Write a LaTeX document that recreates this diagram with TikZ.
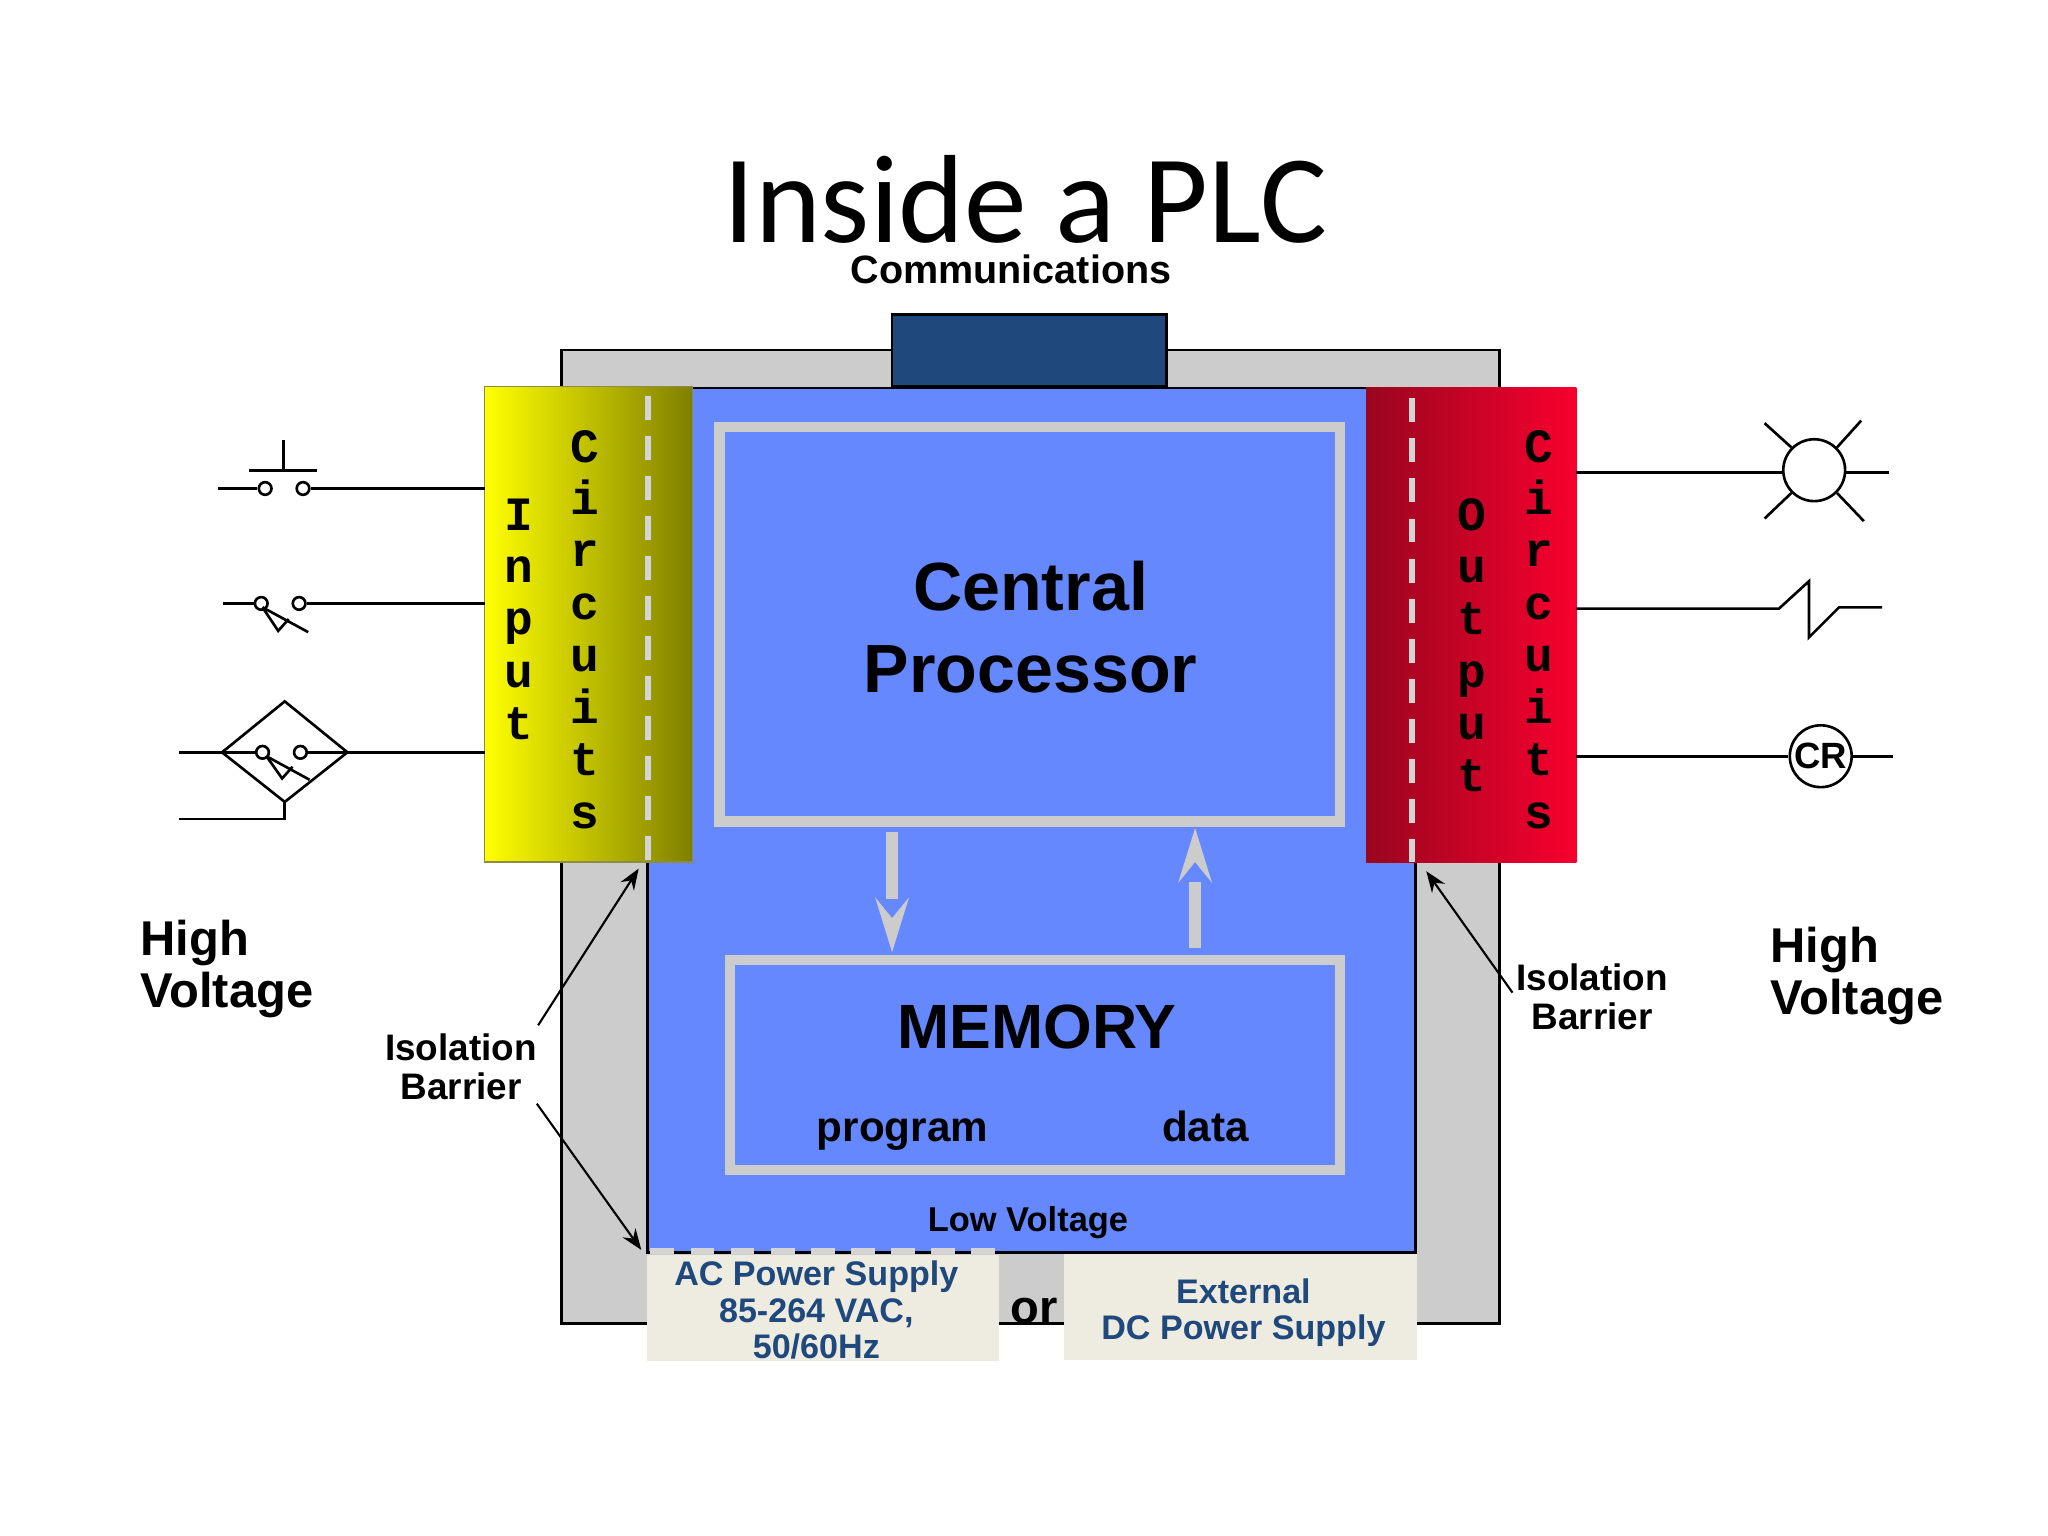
\documentclass[tikz,border=0pt]{standalone}
\usepackage{fontspec}
\setmainfont{Liberation Sans}
\newfontfamily\titlefont{Carlito}
\newfontfamily\letterfont{Liberation Mono}
\usetikzlibrary{arrows.meta}

\definecolor{plcgrey}{HTML}{CCCCCC}
\definecolor{plcblue}{HTML}{6688FF}
\definecolor{commblue}{HTML}{1F497D}
\definecolor{supplybg}{HTML}{EEECE1}
\definecolor{barrier}{HTML}{D4D4D4}
\definecolor{redleft}{HTML}{99061E}
\definecolor{redright}{HTML}{F8002E}

\tikzset{
  wire/.style={line width=0.75pt},
  box/.style={draw=black, line width=0.8pt},
  panel/.style={draw=plcgrey, line width=2.95pt},
  barrierline/.style={draw=barrier, line width=1.65pt, dash pattern=on 6.8pt off 4.6pt},
  feed/.style={draw=plcgrey, line width=3.2pt},
  feedhead/.style={fill=plcgrey, draw=none},
  isoarrow/.style={line width=0.6pt, -{Stealth[length=6pt, width=4.5pt, inset=2pt]}},
  contact/.style={circle, draw=black, line width=0.75pt, fill=white, minimum size=3.6pt, inner sep=0pt},
  vletter/.style={anchor=base, inner sep=0pt, font=\letterfont\bfseries\fontsize{13.6}{14}\selectfont},
  bigword/.style={align=center, font=\bfseries\fontsize{19.4}{23.4}\selectfont},
  hvlabel/.style={align=left, anchor=base west, inner sep=0pt, font=\bfseries\fontsize{13.9}{14.8}\selectfont},
  isolabel/.style={align=center, font=\bfseries\fontsize{10.5}{11.1}\selectfont},
  subword/.style={anchor=base, font=\bfseries\fontsize{12}{14}\selectfont},
  supplytext/.style={align=center, text=commblue, font=\bfseries\fontsize{9.7}{10.4}\selectfont},
}

\begin{document}
\begin{tikzpicture}[x=0.01306cm, y=-0.01306cm]

    \useasboundingbox (0,0) rectangle (1568,1176);

    % Outer case, low voltage area and communications port
    \draw[box, fill=plcgrey] (430,268) rectangle (1148,1013);
    \draw[box, fill=plcblue] (496,297) rectangle (1084,959);
    \draw[box, fill=commblue] (683,241) rectangle (893,296);

    % Input and output circuit blocks
    \shade[left color=yellow, right color=black!50!yellow] (371,296) rectangle (530,660);
    \draw[black!50!yellow, line width=0.4pt] (371,296) rectangle (530,660);
    \shade[left color=redleft, right color=redright] (1046,297) rectangle (1207,660);

    % Isolation barriers
    \draw[barrierline] (496,303) -- (496,660);
    \draw[barrierline] (1081,305) -- (1081,660);
    \draw[barrierline] (498,958) -- (764,958);

    % Processor and memory
    \draw[panel] (551,327) rectangle (1026,629);
    \draw[panel] (559,735) rectangle (1026,896);
    \node[bigword] (cpu) at (789,480) {Central\\Processor};
    \node[font=\bfseries\fontsize{17.8}{20}\selectfont] (mem) at (794,786) {MEMORY};
    \node[subword] (prog) at (691,874) {program};
    \node[subword] (data) at (923,874) {data};

    % Transfer arrows between processor and memory
    \coordinate (readtop) at (683,637);
    \coordinate (readend) at (683,688);
    \coordinate (writebot) at (915,726);
    \coordinate (writeend) at (915,675);
    \draw[feed] (readtop) -- (readend);
    \draw[feed] (writebot) -- (writeend);
    \fill[feedhead] (683,729) -- (670,687) -- (683,703) -- (696,687) -- cycle;
    \fill[feedhead] (915,634) -- (902,676) -- (915,660) -- (928,676) -- cycle;

    % Supply boxes
    \node[font=\bfseries\fontsize{13.4}{15}\selectfont] (ortext) at (792,1004) {or};
    \fill[supplybg] (495,961) rectangle (765,1042);
    \fill[supplybg] (815,960) rectangle (1085,1041);
    \node[supplytext] (ac) at (625,1003) {AC Power Supply\\85-264 VAC,\\50/60Hz};
    \node[supplytext] (dc) at (952,1005) {External\\DC Power Supply};
    \node[font=\bfseries\fontsize{9.8}{11}\selectfont] (low) at (787,936) {Low Voltage};

    % Vertical block names
    \foreach \ch [count=\i from 0] in {C,i,r,c,u,i,t,s} {
        \node[vletter] (cin\i) at (448,{354+40*\i}) {\ch};
        \node[vletter] (cout\i) at (1178,{354+40*\i}) {\ch};
    }
    \foreach \ch [count=\i from 0] in {I,n,p,u,t}
        \node[vletter] (nin\i) at (397,{406+40*\i}) {\ch};
    \foreach \ch [count=\i from 0] in {O,u,t,p,u,t}
        \node[vletter] (nout\i) at (1127,{406+40*\i}) {\ch};

    % Top labels
    \node[inner sep=0pt, font=\titlefont\fontsize{35.7}{36}\selectfont] (title) at (785,153) {Inside a PLC};
    \node[inner sep=0pt, font=\bfseries\fontsize{11.25}{13}\selectfont] (comm) at (774,206) {Communications};

    % Input devices: push button
    \coordinate (pbl) at (167,374);
    \coordinate (pbr) at (371,374);
    \node[contact] (pb1) at (203,374) {};
    \node[contact] (pb2) at (232,374) {};
    \draw[wire] (pbl) -- (pb1);
    \draw[wire] (pb2) -- (pbr);
    \draw[wire] (191,360) -- (243,360);
    \draw[wire] (217,337) -- (217,360);

    % Input devices: limit switch
    \coordinate (lsl) at (171,462);
    \coordinate (lsr) at (371,462);
    \node[contact] (ls1) at (200,462) {};
    \node[contact] (ls2) at (229,462) {};
    \draw[wire] (lsl) -- (ls1);
    \draw[wire] (ls2) -- (lsr);
    \draw[wire] (201,465) -- (236,484);
    \draw[wire] (201,465) -- (213,483) -- (221,474);

    % Input devices: sensor in a diamond
    \coordinate (dl) at (170,576);
    \coordinate (dt) at (218,537);
    \coordinate (dr) at (266,576);
    \coordinate (db) at (218,614);
    \coordinate (snl) at (137,576);
    \coordinate (snr) at (371,576);
    \coordinate (gnd) at (137,627);
    \node[contact] (sn1) at (201,576) {};
    \node[contact] (sn2) at (230,576) {};
    \draw[wire] (dl) -- (dt) -- (dr) -- (db) -- cycle;
    \draw[wire] (snl) -- (sn1);
    \draw[wire] (sn2) -- (snr);
    \draw[wire] (db) |- (gnd);
    \draw[wire] (204,579) -- (237,597);
    \draw[wire] (204,579) -- (216,596) -- (224,587);

    % Output devices: lamp
    \coordinate (lampin) at (1207,362);
    \coordinate (lampout) at (1446,362);
    \node[circle, draw, wire, minimum size=17.6pt, inner sep=0pt] (lamp) at (1389,360) {};
    \draw[wire] (lampin) -- (lampin -| lamp.west);
    \draw[wire] (lampout -| lamp.east) -- (lampout);
    \draw[wire] (lamp.135) -- (1351,324);
    \draw[wire] (lamp.45) -- (1425,322);
    \draw[wire] (lamp.225) -- (1351,397);
    \draw[wire] (lamp.315) -- (1427,399);

    % Output devices: heater
    \coordinate (htin) at (1207,466);
    \coordinate (htout) at (1441,465);
    \draw[wire] (htin) -- (1362,466) -- (1385,445) -- (1385,488) -- (1408,465) -- (htout);

    % Output devices: control relay
    \coordinate (crin) at (1207,579);
    \coordinate (crout) at (1449,579);
    \node[circle, draw, wire, minimum size=17.6pt, inner sep=0pt, font=\bfseries\fontsize{10.4}{12}\selectfont] (cr) at (1394,579) {CR};
    \draw[wire] (crin) -- (cr.west);
    \draw[wire] (cr.east) -- (crout);

    % Side labels
    \node[hvlabel] (hvl) at (107,771) {High\\Voltage};
    \node[hvlabel] (hvr) at (1355,777) {High\\Voltage};
    \node[isolabel] (isol) at (353,817) {Isolation\\Barrier};
    \node[isolabel] (isor) at (1219,763) {Isolation\\Barrier};

    % Barrier arrows
    \coordinate (isola) at (489,665);
    \coordinate (isolb) at (491,957);
    \coordinate (isora) at (1092,667);
    \draw[isoarrow] (412,785) -- (isola);
    \draw[isoarrow] (411,845) -- (isolb);
    \draw[isoarrow] (1158,760) -- (isora);

\end{tikzpicture}
\end{document}
